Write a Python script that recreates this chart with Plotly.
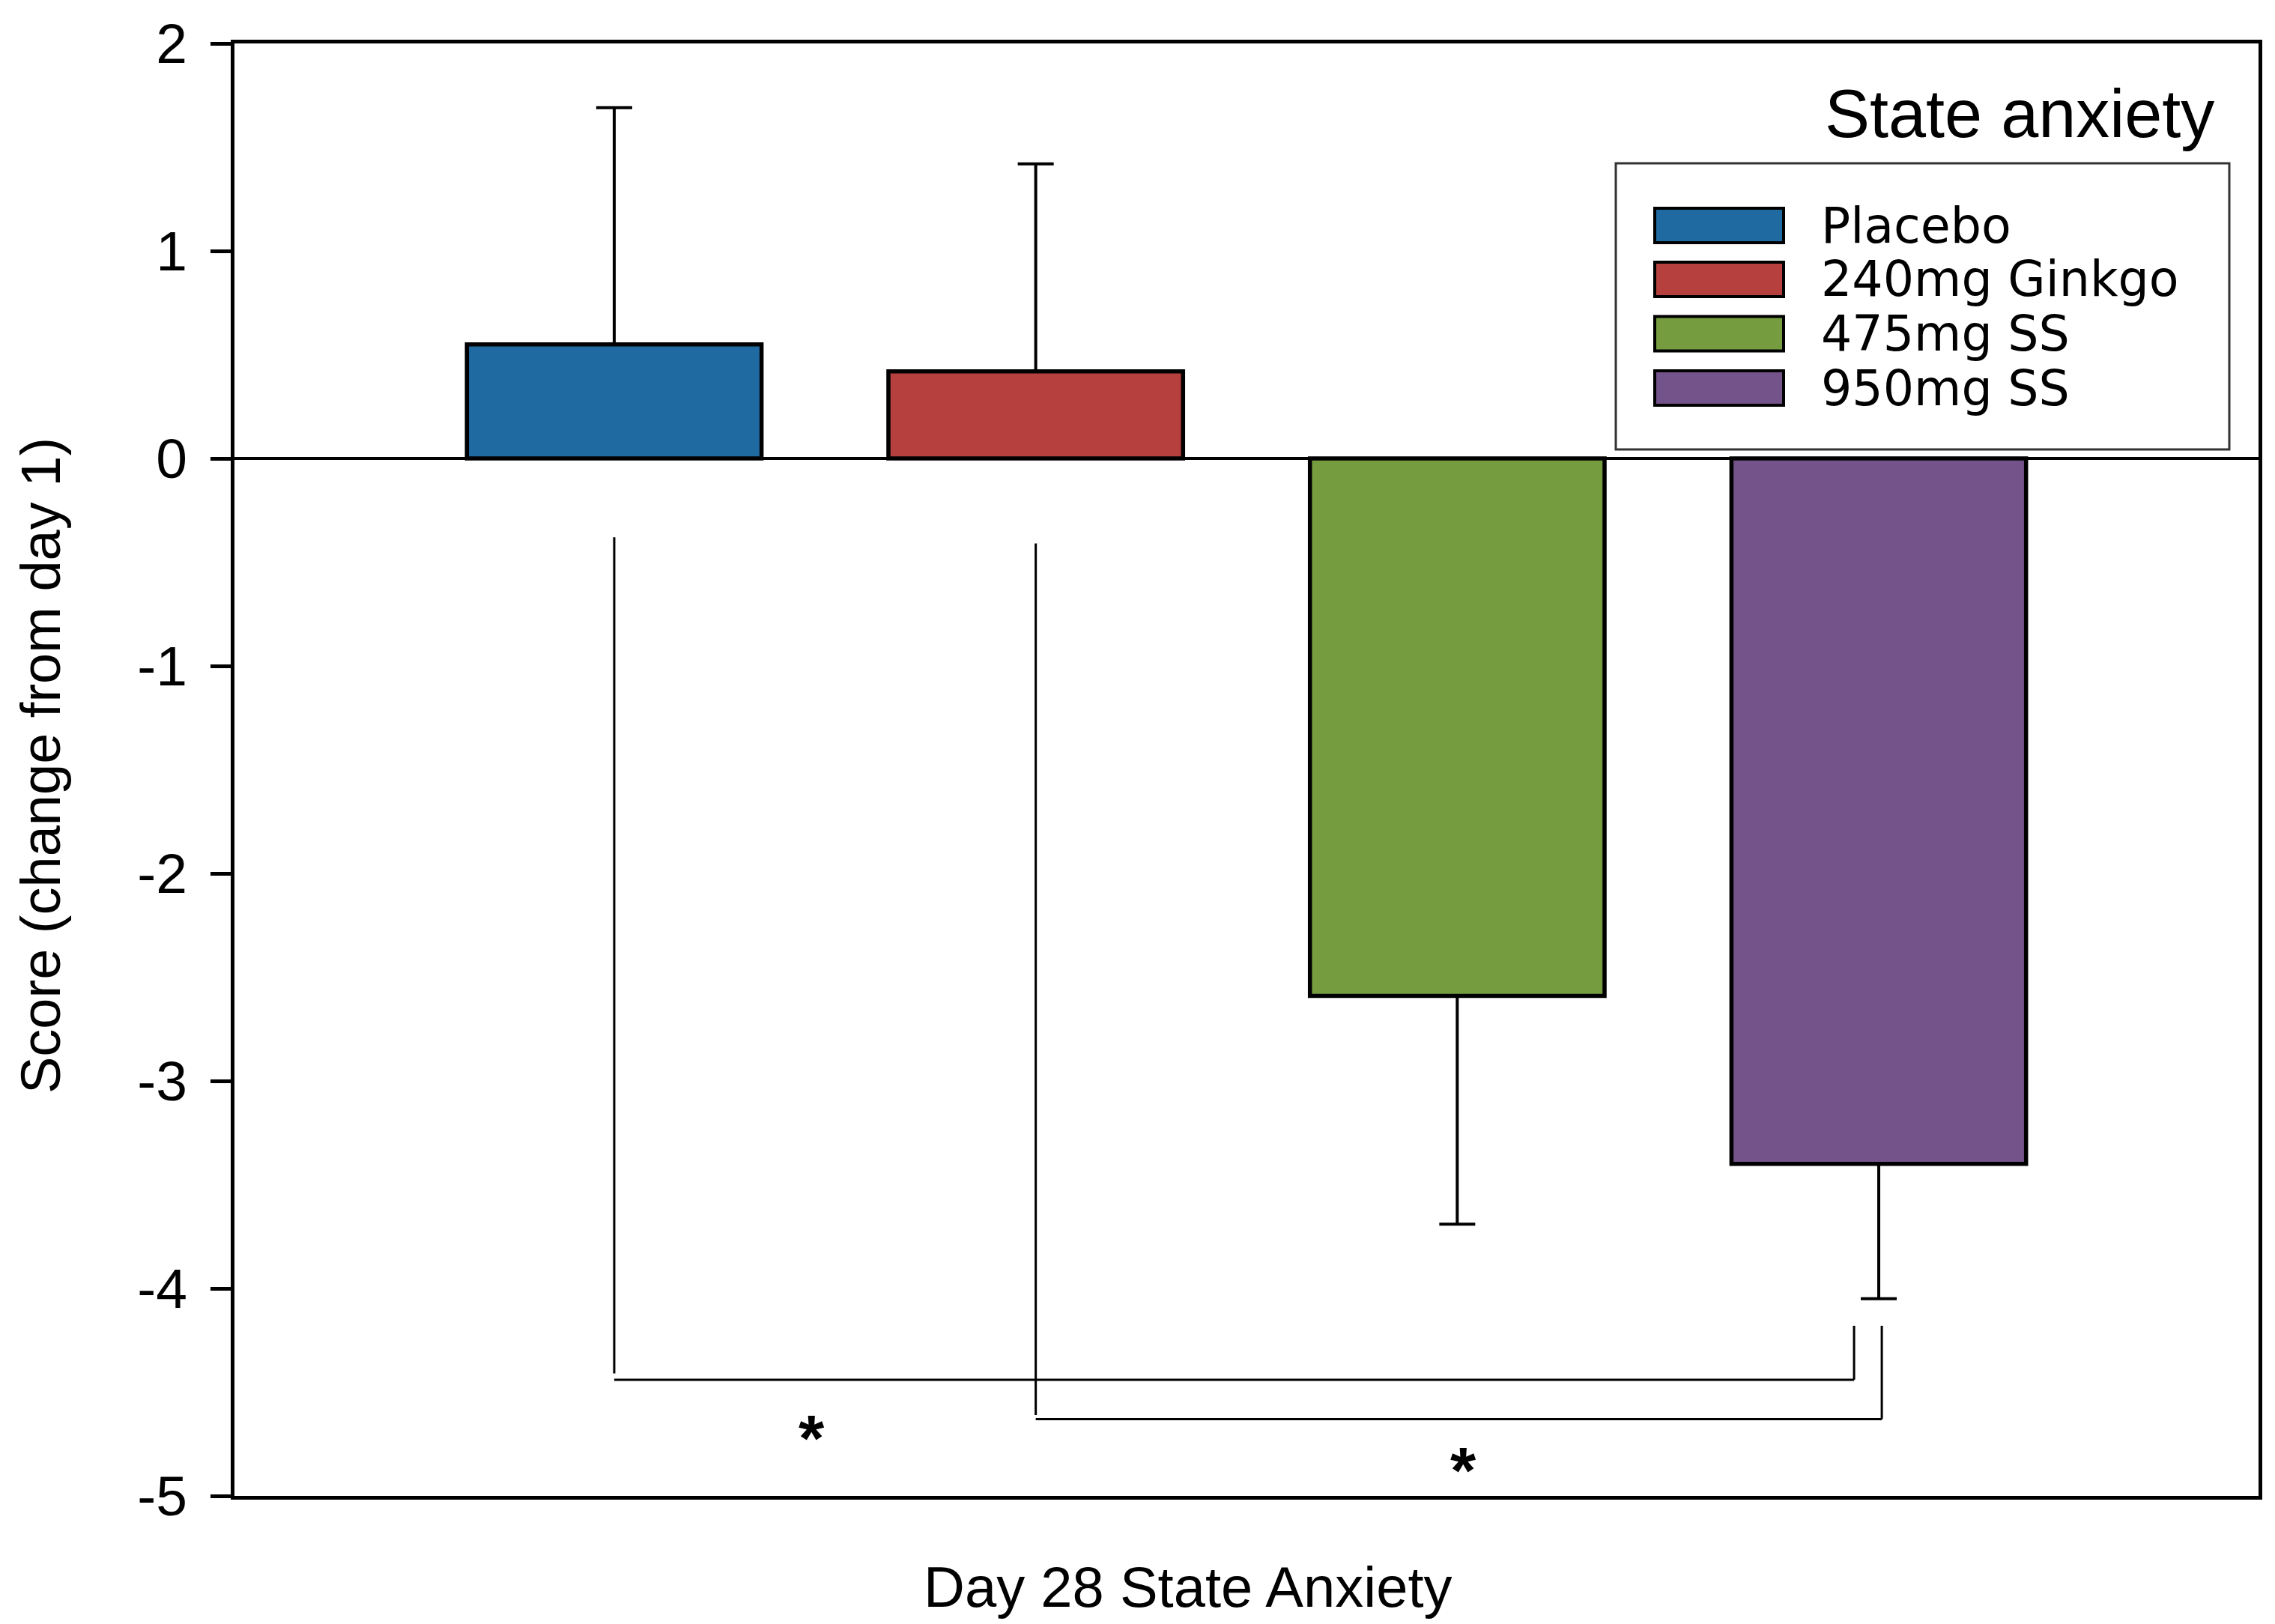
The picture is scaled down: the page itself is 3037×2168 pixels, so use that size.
import plotly.graph_objects as go

# ---------------- data ----------------
category = ["Day 28 State Anxiety"]
groups = ["Placebo", "240mg Ginkgo", "475mg SS", "950mg SS"]
means = [0.55, 0.42, -2.59, -3.40]
err_up = [1.14, 1.00, 0.0, 0.0]
err_down = [0.0, 0.0, 1.10, 0.65]
colors = ["#1F6AA0", "#B5403D", "#759D3F", "#735389"]

y_title = "Score (change from day 1)"
x_title = "Day 28 State Anxiety"
legend_title = "State anxiety"
y_ticks = [2, 1, 0, -1, -2, -3, -4, -5]

# significance brackets: (left group index, right group index)
sig_pairs = [(0, 3), (1, 3)]
sig_left_top = [-0.38, -0.41]
sig_left_bottom = [-4.41, -4.61]
sig_line_y = [-4.44, -4.63]
sig_right_top = [-4.18, -4.18]
sig_labels = ["*", "*"]

# ---------------- layout geometry (px) ----------------
W, H = 3037, 2168
L, R, T, B = 313, 22, 58, 171
PW, PH = W - L - R, H - T - B
FONT = "Liberation Sans, Arial, sans-serif"
LEG_FONT = "DejaVu Sans, Liberation Sans, Arial, sans-serif"
BARGAP = 0.167
BARGROUPGAP = 0.301
slot = (1 - BARGAP) / len(groups)


def bar_x(i):
    return (i - (len(groups) - 1) / 2) * slot


def px_x(px):
    return (px - L) / PW


def px_y(py):
    return (H - B - py) / PH


fig = go.Figure()
for g, m, up, dn, c in zip(groups, means, err_up, err_down, colors):
    fig.add_trace(go.Bar(
        x=category, y=[m], name=g,
        marker=dict(color=c, line=dict(color="black", width=5.5)),
        error_y=dict(type="data", symmetric=False, array=[up], arrayminus=[dn],
                     color="black", thickness=4, width=24),
        showlegend=False,
    ))

shapes = []
annotations = []

# significance brackets
right_dx = [-0.0122, 0.0015]
for k, (a, b) in enumerate(sig_pairs):
    xl = bar_x(a)
    xr = bar_x(b) + right_dx[k]
    ln = dict(color="black", width=3)
    shapes.append(dict(type="line", xref="x", yref="y", x0=xl, x1=xl,
                       y0=sig_left_top[k], y1=sig_left_bottom[k], line=ln))
    shapes.append(dict(type="line", xref="x", yref="y", x0=xl, x1=xr,
                       y0=sig_line_y[k], y1=sig_line_y[k], line=ln))
    shapes.append(dict(type="line", xref="x", yref="y", x0=xr, x1=xr,
                       y0=sig_right_top[k], y1=sig_line_y[k], line=ln))

star_x = [-0.215, 0.107]
star_y = [-4.657, -4.81]
for sx, sy, s in zip(star_x, star_y, sig_labels):
    annotations.append(dict(x=sx, y=sy, xref="x", yref="y", text="<b>" + s + "</b>",
                            showarrow=False, xanchor="center", yanchor="middle", yshift=-18,
                            font=dict(family=FONT, size=88, color="black")))

# legend (drawn manually to get wide swatches)
shapes.append(dict(type="rect", xref="paper", yref="paper",
                   x0=px_x(2157), x1=px_x(2976), y0=px_y(600), y1=px_y(218),
                   line=dict(color="#333333", width=3), fillcolor="white", layer="above"))
row_y = [301, 373, 445.5, 518]
for g, c, ry in zip(groups, colors, row_y):
    shapes.append(dict(type="rect", xref="paper", yref="paper",
                       x0=px_x(2209), x1=px_x(2381), y0=px_y(ry + 23), y1=px_y(ry - 23),
                       line=dict(color="black", width=4), fillcolor=c, layer="above"))
    annotations.append(dict(x=px_x(2429), y=px_y(ry), xref="paper", yref="paper",
                            text=g, showarrow=False, xanchor="left", yanchor="middle",
                            font=dict(family=LEG_FONT, size=65, color="black")))

annotations.append(dict(x=px_x(2958), y=px_y(152), xref="paper", yref="paper",
                        text=legend_title, showarrow=False, xanchor="right", yanchor="middle",
                        font=dict(family=FONT, size=90, color="black")))

# axis titles
annotations.append(dict(x=px_x(1586), y=px_y(2118), xref="paper", yref="paper",
                        text=x_title, showarrow=False, xanchor="center", yanchor="middle",
                        font=dict(family=FONT, size=76, color="black")))
annotations.append(dict(x=px_x(54), y=px_y(1022), xref="paper", yref="paper",
                        text=y_title, showarrow=False, textangle=-90,
                        xanchor="center", yanchor="middle",
                        font=dict(family=FONT, size=74, color="black")))

fig.update_layout(
    width=W, height=H,
    margin=dict(l=L, r=R, t=T, b=B, pad=0),
    paper_bgcolor="white", plot_bgcolor="white",
    barmode="group", bargap=BARGAP, bargroupgap=BARGROUPGAP,
    showlegend=False,
    shapes=shapes, annotations=annotations,
    xaxis=dict(type="category", range=[-0.5, 0.5], showticklabels=False, ticks="",
               showline=True, linecolor="black", linewidth=5, mirror=True,
               showgrid=False, zeroline=False, fixedrange=True),
    yaxis=dict(range=[-5, 2], tickvals=y_ticks, ticktext=[str(v) for v in y_ticks],
               ticks="outside", ticklen=27, tickwidth=5, tickcolor="black",
               ticklabelstandoff=16,
               tickfont=dict(family=FONT, size=75, color="black"),
               showline=True, linecolor="black", linewidth=5, mirror=True,
               showgrid=False, zeroline=True, zerolinecolor="black", zerolinewidth=4,
               fixedrange=True),
)

fig.write_html("out.html", config={"displayModeBar": False},
               post_script="document.body.style.margin='0';document.body.style.overflow='hidden';")
